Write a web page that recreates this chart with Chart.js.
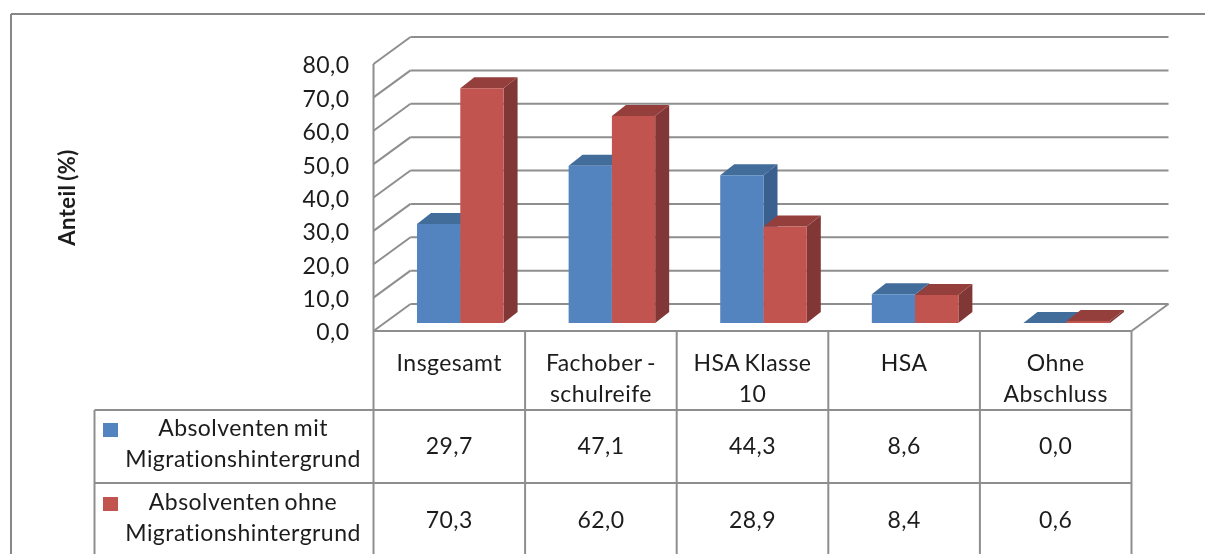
<!DOCTYPE html>
<html>
<head>
<meta charset="utf-8">
<title>Anteil Absolventen</title>
<script src="https://cdn.jsdelivr.net/npm/chart.js@4"></script>
<style>
html, body { margin: 0; padding: 0; background: #fff; overflow: hidden; }
#myChart { display: block; }
</style>
</head>
<body>
<div style="width:1205px;height:554px"><canvas id="myChart" width="1205" height="554"></canvas></div>
<script>
var categories = ["Insgesamt", "Fachober -", "HSA Klasse", "HSA", "Ohne"];
var categories2 = ["", "schulreife", "10", "", "Abschluss"];
var mitValues = [29.7, 47.1, 44.3, 8.6, 0.0];
var ohneValues = [70.3, 62.0, 28.9, 8.4, 0.6];
var mitLabel = ["Absolventen mit", "Migrationshintergrund"];
var ohneLabel = ["Absolventen ohne", "Migrationshintergrund"];

var FONT = "Lato";
var GRID = "#8e8e8e";
var TEXT = "#1c1c1c";
var WALL_DX = 37, WALL_DY = -27;
var BAR_DX = 11, BAR_DY = -8;
var DEPTH_DX = 14, DEPTH_DY = -11;

function comma(v) {
    return v.toFixed(1).replace(".", ",");
}

function line(ctx, x1, y1, x2, y2) {
    ctx.beginPath();
    ctx.moveTo(x1, y1);
    ctx.lineTo(x2, y2);
    ctx.stroke();
}

function poly(ctx, pts, color) {
    ctx.fillStyle = color;
    ctx.beginPath();
    ctx.moveTo(pts[0][0], pts[0][1]);
    for (var i = 1; i < pts.length; i++) {
        ctx.lineTo(pts[i][0], pts[i][1]);
    }
    ctx.closePath();
    ctx.fill();
}

var threeD = {
    id: "threeD",
    beforeDraw: function (chart) {
        chart.ctx.letterSpacing = "0.45px";
        chart.ctx.wordSpacing = "-2px";
    },
    beforeDatasetsDraw: function (chart) {
        var ctx = chart.ctx, y = chart.scales.y, a = chart.chartArea;
        ctx.save();
        ctx.strokeStyle = GRID;
        ctx.lineWidth = 2;
        y.ticks.forEach(function (t) {
            var py = y.getPixelForValue(t.value);
            line(ctx, a.left, py, a.left + WALL_DX, py + WALL_DY);
            line(ctx, a.left + WALL_DX, py + WALL_DY, a.right + WALL_DX, py + WALL_DY);
        });
        line(ctx, a.left, a.top, a.left, a.bottom);
        line(ctx, a.right + WALL_DX, a.bottom + WALL_DY, a.right, a.bottom);
        ctx.restore();
    },
    // the default order paints the second series first, blue has to go under red here
    beforeDatasetDraw: function () {
        return false;
    },
    afterDatasetsDraw: function (chart) {
        var ctx = chart.ctx;
        chart.data.datasets.forEach(function (ds, i) {
            var meta = chart.getDatasetMeta(i);
            ctx.save();
            ctx.translate(BAR_DX, BAR_DY);
            meta.data.forEach(function (bar) {
                var l = bar.x - bar.width / 2, r = bar.x + bar.width / 2;
                poly(ctx, [[r, bar.y], [r + DEPTH_DX, bar.y + DEPTH_DY], [r + DEPTH_DX, bar.base + DEPTH_DY], [r, bar.base]], ds.sideColor);
                poly(ctx, [[l, bar.y], [l + DEPTH_DX, bar.y + DEPTH_DY], [r + DEPTH_DX, bar.y + DEPTH_DY], [r, bar.y]], ds.topColor);
                bar.draw(ctx);
            });
            ctx.restore();
        });
    },
    afterDraw: function (chart) {
        var ctx = chart.ctx, x = chart.scales.x, a = chart.chartArea;
        var i, step = (a.right - a.left) / categories.length;
        ctx.save();
        // outer frame, cut off by the picture
        ctx.strokeStyle = "#878787";
        ctx.lineWidth = 2;
        line(ctx, 11, 14, 1205, 14);
        line(ctx, 11, 14, 11, 554);
        // data table
        ctx.strokeStyle = GRID;
        line(ctx, a.left, a.bottom, a.right, a.bottom);
        line(ctx, 94.5, 410, a.right, 410);
        line(ctx, 94.5, 483, a.right, 483);
        line(ctx, 94.5, 410, 94.5, 554);
        for (i = 0; i <= categories.length; i++) {
            line(ctx, a.left + i * step, a.bottom, a.left + i * step, 554);
        }
        ctx.fillStyle = TEXT;
        ctx.textAlign = "center";
        ctx.textBaseline = "alphabetic";
        ctx.font = "23px " + FONT;
        categories.forEach(function (c, j) {
            var cx = x.getPixelForValue(j);
            ctx.fillText(c, cx, 371);
            ctx.fillText(categories2[j], cx, 402);
            ctx.fillText(comma(mitValues[j]), cx, 454);
            ctx.fillText(comma(ohneValues[j]), cx, 528);
        });
        ctx.fillText(mitLabel[0], 243, 436);
        ctx.fillText(mitLabel[1], 243, 467);
        ctx.fillText(ohneLabel[0], 243, 510);
        ctx.fillText(ohneLabel[1], 243, 541);
        ctx.fillStyle = chart.data.datasets[0].backgroundColor;
        ctx.fillRect(103, 423, 15, 14);
        ctx.fillStyle = chart.data.datasets[1].backgroundColor;
        ctx.fillRect(103, 497, 15, 14);
        ctx.restore();
    }
};

new Chart(document.getElementById("myChart"), {
    type: "bar",
    data: {
        labels: categories,
        datasets: [
            {
                label: mitLabel.join(" "),
                data: mitValues,
                backgroundColor: "#5384bf",
                sideColor: "#3a6090",
                topColor: "#426c9a"
            },
            {
                label: ohneLabel.join(" "),
                data: ohneValues,
                backgroundColor: "#c25450",
                sideColor: "#803735",
                topColor: "#953f3c"
            }
        ]
    },
    options: {
        responsive: false,
        animation: false,
        clip: false,
        categoryPercentage: 0.571,
        barPercentage: 1,
        layout: { padding: { top: 64, right: 73.5, bottom: 223, left: 0 } },
        plugins: { legend: { display: false }, tooltip: { enabled: false } },
        scales: {
            x: {
                display: false
            },
            y: {
                min: 0,
                max: 80,
                afterFit: function (s) { s.width = 373.5; },
                grid: { display: false, drawTicks: false },
                border: { display: false },
                title: {
                    display: true,
                    text: "Anteil (%)",
                    color: TEXT,
                    font: { family: FONT, size: 22, weight: "bold" },
                    padding: { top: 55, bottom: 0 }
                },
                ticks: {
                    stepSize: 10,
                    color: TEXT,
                    padding: 24,
                    labelOffset: 2,
                    font: { family: FONT, size: 23 },
                    callback: function (v) { return comma(v); }
                }
            }
        }
    },
    plugins: [threeD]
});
</script>
</body>
</html>
